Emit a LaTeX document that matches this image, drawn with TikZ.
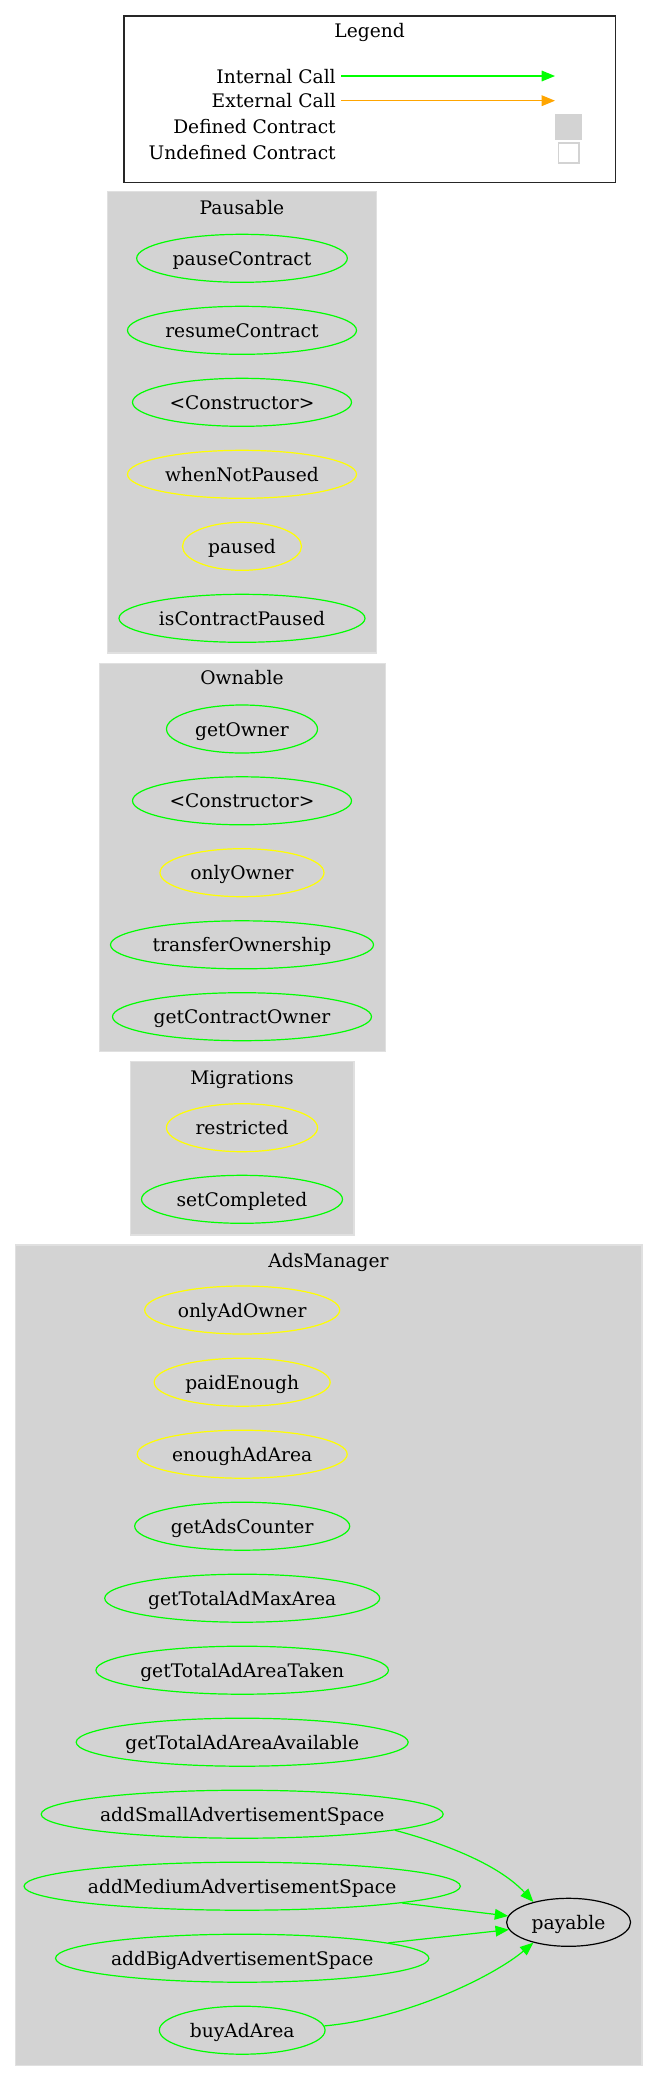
\documentclass[tikz,border=0pt]{standalone}
\usepackage{fontspec}
\setmainfont{DejaVu Serif}
\usetikzlibrary{shapes.geometric,arrows.meta}
\definecolor{fgreen}{HTML}{00FF00}
\definecolor{fyellow}{HTML}{FFFF00}
\definecolor{lgray}{HTML}{D3D3D3}
\definecolor{forange}{HTML}{FFA500}
\begin{document}
\begin{tikzpicture}[x=0.75pt,y=-0.75pt,
  every node/.style={font=\fontsize{14}{16}\selectfont, inner sep=0pt, text height=10.5pt, text depth=0pt},
  fnode/.style={ellipse, draw=fgreen, line width=0.9pt, minimum height=36pt},
  modnode/.style={fnode, draw=fyellow},
  plainnode/.style={fnode, draw=black},
  cluster/.style={fill=lgray, draw=lgray!70!white, line width=0.9pt},
  tipstyle/.style={-{Triangle[length=10pt,width=8pt]}},
  call/.style={draw=fgreen, line width=0.9pt, tipstyle, fgreen},
  extcall/.style={draw=forange, line width=0.9pt, tipstyle, forange}]
\useasboundingbox (0,0) rectangle (658,2081);

% Legend
\draw[line width=0.9pt, draw=black!85] (124,16) rectangle (615.3,182.7);
\node (legendTitle) at (369.7,30) {Legend};
\node[anchor=east] (lInt) at (336,76) {Internal Call};
\node[anchor=east] (lExt) at (336,100.7) {External Call};
\node[anchor=east] (lDef) at (336,126) {Defined Contract};
\node[anchor=east] (lUndef) at (336,152) {Undefined Contract};
\coordinate (lIntA) at (341,76);
\coordinate (lIntB) at (555,76);
\coordinate (lExtA) at (341,100.7);
\coordinate (lExtB) at (555,100.7);
\draw[call] (lIntA) -- (lIntB);
\draw[extcall] (lExtA) -- (lExtB);
\node[draw=lgray, fill=lgray, minimum width=19.5pt, minimum height=18.8pt] (defBox) at (568.3,127.2) {};
\node[draw=lgray, fill=white, line width=1.3pt, minimum width=15.5pt, minimum height=15pt] (undefBox) at (568.7,153.3) {};

% Pausable
\draw[cluster] (107.3,191.7) rectangle (376.7,653);
\node (tPausable) at (242,207) {Pausable};
\node[fnode, minimum width=158pt] (pauseContract) at (242,258.3) {pauseContract};
\node[fnode, minimum width=171.75pt] (resumeContract) at (242,330.3) {resumeContract};
\node[fnode, minimum width=164.25pt] (pConstructor) at (242,402.3) {<Constructor>};
\node[modnode, minimum width=171.75pt] (whenNotPaused) at (242,474.3) {whenNotPaused};
\node[modnode, minimum width=89.25pt] (paused) at (242,546.3) {paused};
\node[fnode, minimum width=184.5pt] (isContractPaused) at (242,618.3) {isContractPaused};

% Ownable
\draw[cluster] (99.3,663.3) rectangle (385.7,1051.7);
\node (tOwnable) at (242,677.3) {Ownable};
\node[fnode, minimum width=113.25pt] (getOwner) at (242,729) {getOwner};
\node[fnode, minimum width=164.25pt] (oConstructor) at (242,800.8) {<Constructor>};
\node[modnode, minimum width=123pt] (onlyOwner) at (242,872.7) {onlyOwner};
\node[fnode, minimum width=197.25pt] (transferOwnership) at (242,944.8) {transferOwnership};
\node[fnode, minimum width=194.25pt] (getContractOwner) at (242,1016.7) {getContractOwner};

% Migrations
\draw[cluster] (130.7,1061.7) rectangle (354,1235);
\node (tMigrations) at (242,1077.3) {Migrations};
\node[modnode, minimum width=113.25pt] (restricted) at (242,1127.7) {restricted};
\node[fnode, minimum width=150.75pt] (setCompleted) at (242,1199.3) {setCompleted};

% AdsManager
\draw[cluster] (15.1,1245) rectangle (642,2065.5);
\node (tAdsManager) at (328.5,1260) {AdsManager};
\node[modnode, minimum width=146.25pt] (onlyAdOwner) at (242.2,1310) {onlyAdOwner};
\node[modnode, minimum width=132pt] (paidEnough) at (242.2,1382.2) {paidEnough};
\node[modnode, minimum width=157.5pt] (enoughAdArea) at (242.2,1454.2) {enoughAdArea};
\node[fnode, minimum width=161.25pt] (getAdsCounter) at (242.2,1526.2) {getAdsCounter};
\node[fnode, minimum width=206.25pt] (getTotalAdMaxArea) at (242.2,1598.2) {getTotalAdMaxArea};
\node[fnode, minimum width=219.4pt] (getTotalAdAreaTaken) at (242.2,1670.2) {getTotalAdAreaTaken};
\node[fnode, minimum width=249pt] (getTotalAdAreaAvailable) at (242.2,1742.2) {getTotalAdAreaAvailable};
\node[fnode, minimum width=300.75pt] (addSmall) at (242.2,1814.2) {addSmallAdvertisementSpace};
\node[fnode, minimum width=323.5pt] (addMedium) at (242.2,1886.2) {addMediumAdvertisementSpace};
\node[fnode, minimum width=280pt] (addBig) at (242.2,1958.2) {addBigAdvertisementSpace};
\node[fnode, minimum width=124.3pt] (buyAdArea) at (242.2,2030.2) {buyAdArea};
\node[plainnode, minimum width=93pt] (payable) at (568.6,1922.3) {payable};

% Calls
\draw[call] (addSmall.-6.6) .. controls (450,1845) and (500,1866) .. (payable.150);
\draw[call] (addMedium.-6.5) -- (payable.174);
\draw[call] (addBig.6.3) -- (payable.-173);
\draw[call] (buyAdArea.3.5) .. controls (410,2018) and (495,1975) .. (payable.-150);
\end{tikzpicture}
\end{document}
